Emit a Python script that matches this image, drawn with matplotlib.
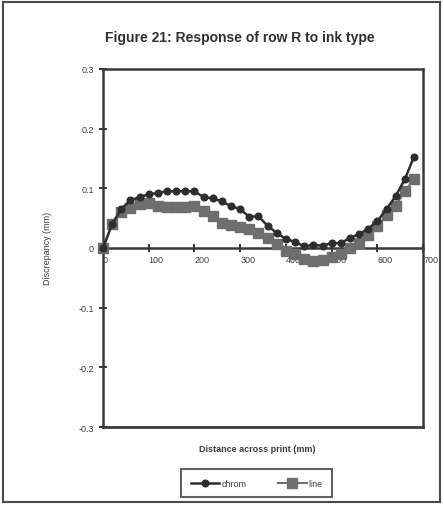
import matplotlib.pyplot as plt
from matplotlib.patches import Rectangle

plt.rcParams['font.family'] = ['Liberation Sans', 'DejaVu Sans']

# distance across print (mm)
distance = [0, 20, 40, 60, 80, 100, 120, 140, 160, 180, 200, 220, 240, 260,
            280, 300, 320, 340, 360, 380, 400, 420, 440, 460, 480, 500, 520,
            540, 560, 580, 600, 620, 640, 660, 680]

# discrepancy (mm) per ink type
chrom = [0.0, 0.04, 0.065, 0.08, 0.085, 0.09, 0.092, 0.095, 0.095, 0.095,
         0.095, 0.085, 0.083, 0.078, 0.07, 0.065, 0.052, 0.053, 0.037, 0.025,
         0.015, 0.01, 0.003, 0.005, 0.004, 0.008, 0.008, 0.017, 0.023, 0.032,
         0.045, 0.065, 0.087, 0.115, 0.153]
line = [0.0, 0.04, 0.06, 0.067, 0.073, 0.075, 0.07, 0.068, 0.068, 0.068,
        0.07, 0.062, 0.053, 0.042, 0.038, 0.035, 0.032, 0.025, 0.017, 0.007,
        -0.005, -0.01, -0.018, -0.022, -0.02, -0.015, -0.01, 0.0, 0.008,
        0.022, 0.037, 0.055, 0.07, 0.095, 0.115]

xticks = [0, 100, 200, 300, 400, 500, 600, 700]
yticks = [-0.3, -0.2, -0.1, 0, 0.1, 0.2, 0.3]
ytick_labels = ['-0.3', '-0.2', '-0.1', '0', '0.1', '0.2', '0.3']

frame_col = '#3a3a3a'
text_col = '#3c3c3c'

fig = plt.figure(figsize=(4.44, 5.06), dpi=100)
ax = fig.add_axes([0.232, 0.154, 0.721, 0.708])

ax.plot(distance, line, color='#6e6e6e', lw=1.5, marker='s', ms=6.8,
        mec='#6e6e6e', mfc='#6e6e6e', clip_on=False, zorder=3, label='line')
ax.plot(distance, chrom, color='#2e2e2e', lw=1.8, marker='o', ms=4.8,
        mec='#2e2e2e', mfc='#2e2e2e', clip_on=False, zorder=4, label='chrom')

ax.set_xlim(0, 700)
ax.set_ylim(-0.3, 0.3)

# x axis runs along zero, frame stays closed at the bottom
ax.spines['bottom'].set_position(('data', 0))
ax.axhline(-0.3, color=frame_col, lw=2, clip_on=False, zorder=5)
for s in ax.spines.values():
    s.set_color(frame_col)
    s.set_linewidth(1.8)

ax.set_xticks(xticks)
ax.set_yticks(yticks)
ax.set_yticklabels(ytick_labels)
ax.tick_params(axis='both', direction='inout', length=6, width=1.5,
               color=frame_col, labelsize=6.5, labelcolor=text_col)
ax.tick_params(axis='x', pad=2)
for lab in ax.get_xticklabels():
    lab.set_horizontalalignment('left')

fig.text(0.54, 0.925, 'Figure 21: Response of row R to ink type',
         ha='center', va='center', fontsize=10, fontweight='bold',
         color='#303030')
fig.text(0.106, 0.51, 'Discrepancy (mm)', rotation=90, ha='center',
         va='center', fontsize=6.5, color=text_col)
fig.text(0.58, 0.111, 'Distance across print (mm)', ha='center',
         va='center', fontsize=6.5, fontweight='bold', color=text_col)

handles, labels = ax.get_legend_handles_labels()
leg = fig.legend(handles[::-1], labels[::-1], loc='center',
                 bbox_to_anchor=(0.578, 0.043), ncol=2, fontsize=6.5,
                 frameon=True, fancybox=False, handlelength=3.2,
                 handletextpad=0.2, columnspacing=3.5, borderpad=1.05,
                 markerscale=1.0)
leg.get_frame().set_edgecolor(frame_col)
leg.get_frame().set_linewidth(1.5)
for t in leg.get_texts():
    t.set_color(text_col)

# outer border around the figure
fig.patches.append(Rectangle((0.007, 0.006), 0.984, 0.988,
                             transform=fig.transFigure, fill=False,
                             edgecolor='#4a4a4a', lw=1.5))

fig.savefig('out.png', dpi=100, facecolor='white')
